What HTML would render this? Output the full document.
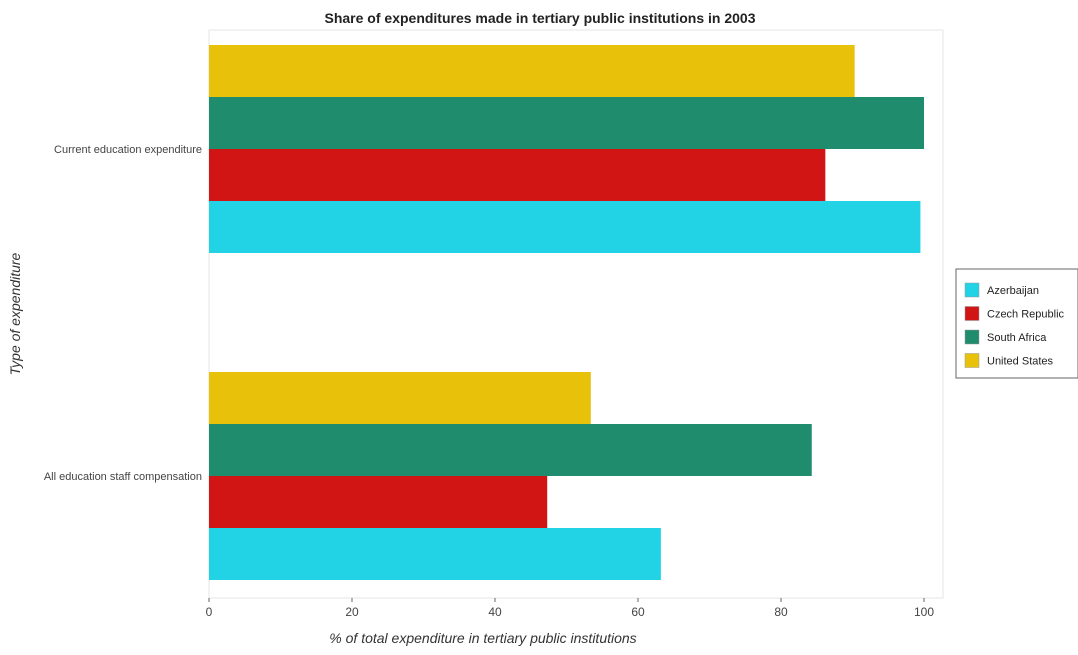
<!DOCTYPE html>
<html><head><meta charset="utf-8"><style>
body{margin:0;background:#fff;font-family:"Liberation Sans",sans-serif}
svg text{font-family:"Liberation Sans",sans-serif}
</style></head><body>
<svg width="1078" height="650" xmlns="http://www.w3.org/2000/svg" id="chart">
<text x="540" y="23" text-anchor="middle" font-size="14" font-weight="bold" fill="#222">Share of expenditures made in tertiary public institutions in 2003</text>
<rect x="209" y="30" width="734" height="568" fill="#fff" stroke="#e6e6e6"/>
<g id="bars"></g>
<g id="axes"></g>
<text x="483" y="643" text-anchor="middle" font-size="14" font-style="italic" fill="#333">% of total expenditure in tertiary public institutions</text>
<text transform="translate(20,314) rotate(-90)" text-anchor="middle" font-size="14" font-style="italic" fill="#333">Type of expenditure</text>
<g>
<rect x="956" y="269" width="122" height="109" fill="#fff" stroke="#666"/>
<g id="legend"></g>
</g>
</svg>
<script>
const categories=["All education staff compensation","Current education expenditure"];
const seriesNames=["Azerbaijan","Czech Republic","South Africa","United States"];
const colors=["#22d3e6","#d11414","#1f8c6e","#e8c10a"];
const azerbaijan=[63.2,99.5];
const czech=[47.3,86.2];
const southAfrica=[84.3,100];
const unitedStates=[53.4,90.3];
const series=[azerbaijan,czech,southAfrica,unitedStates];
const xTicks=[0,20,40,60,80,100];
const NS="http://www.w3.org/2000/svg";
const x=v=>209+v*7.15;
const groupBottom=[580,253];
const bh=52;
const bars=document.getElementById('bars');
categories.forEach((c,ci)=>{
  series.forEach((s,si)=>{
    const r=document.createElementNS(NS,'rect');
    r.setAttribute('x',x(0));
    r.setAttribute('y',groupBottom[ci]-(si+1)*bh);
    r.setAttribute('width',x(s[ci])-x(0));
    r.setAttribute('height',bh);
    r.setAttribute('fill',colors[si]);
    
    
    bars.appendChild(r);
  });
});
const axes=document.getElementById('axes');
xTicks.forEach(t=>{
  const l=document.createElementNS(NS,'line');
  l.setAttribute('x1',x(t));l.setAttribute('x2',x(t));l.setAttribute('y1',598);l.setAttribute('y2',602);l.setAttribute('stroke','#666');
  axes.appendChild(l);
  const tx=document.createElementNS(NS,'text');
  tx.setAttribute('x',x(t));tx.setAttribute('y',616);tx.setAttribute('text-anchor','middle');tx.setAttribute('font-size','12');tx.setAttribute('fill','#444');
  tx.textContent=t;
  
  
  axes.appendChild(tx);
});
categories.forEach((c,ci)=>{
  const tx=document.createElementNS(NS,'text');
  tx.setAttribute('x',202);tx.setAttribute('y',groupBottom[ci]-2*bh+4);tx.setAttribute('text-anchor','end');tx.setAttribute('font-size','11');tx.setAttribute('fill','#444');
  tx.textContent=c;
  
  
  axes.appendChild(tx);
});
const lg=document.getElementById('legend');
seriesNames.forEach((n,i)=>{
  const y=283+i*23.5;
  const r=document.createElementNS(NS,'rect');
  r.setAttribute('x',965);r.setAttribute('y',y);r.setAttribute('width',14);r.setAttribute('height',14);r.setAttribute('fill',colors[i]);r.setAttribute('stroke','#999');r.setAttribute('stroke-width','0.5');
  
  
  lg.appendChild(r);
  const t=document.createElementNS(NS,'text');
  t.setAttribute('x',987);t.setAttribute('y',y+11);t.setAttribute('font-size','11');t.setAttribute('fill','#222');
  t.textContent=n;
  
  
  lg.appendChild(t);
});
</script>
</body></html>
